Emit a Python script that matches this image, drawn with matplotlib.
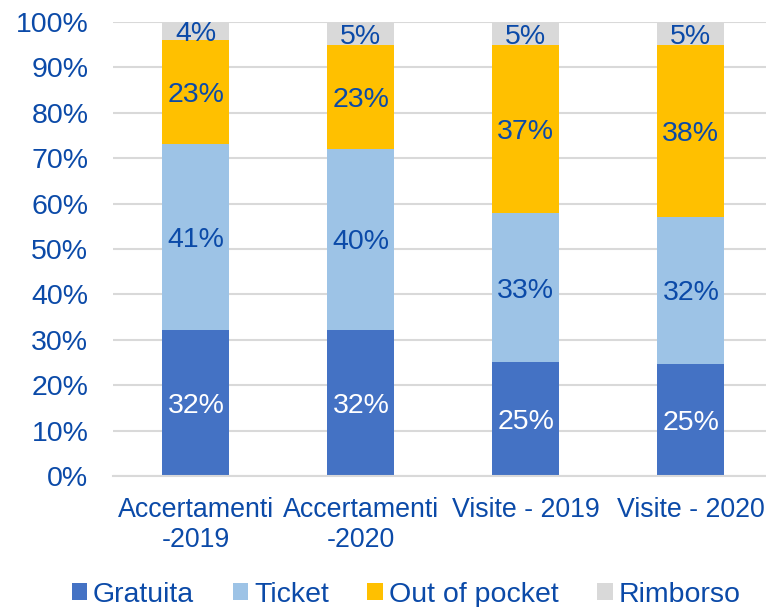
import matplotlib.pyplot as plt
from matplotlib.patches import Patch

categories = ["Accertamenti\n-2019", "Accertamenti\n-2020", "Visite - 2019", "Visite - 2020"]
series_names = ["Gratuita", "Ticket", "Out of pocket", "Rimborso"]
gratuita = [32.2, 32.2, 25.1, 24.7]
ticket = [40.9, 39.8, 32.8, 32.4]
out_of_pocket = [22.9, 22.9, 37.0, 37.8]
rimborso = [4.0, 5.1, 5.1, 5.1]

colors = ["#4472C4", "#9DC3E6", "#FFC000", "#D9D9D9"]
label_colors = ["white", "#0B4AA8", "#0B4AA8", "#0B4AA8"]
TEXT_BLUE = "#0B4AA8"

plt.rcParams["font.family"] = ["Liberation Sans", "DejaVu Sans"]
FS = 20.5

fig = plt.figure(figsize=(7.66, 6.07), dpi=100)
ax = fig.add_axes([0.148, 0.2158, 0.8616, 0.748])

x = list(range(len(categories)))
bottom = [0.0] * len(categories)
for values, name, color, lcolor in zip(
    [gratuita, ticket, out_of_pocket, rimborso], series_names, colors, label_colors
):
    ax.bar(x, values, width=0.406, bottom=bottom, color=color, label=name, zorder=2)
    for xi, b, v in zip(x, bottom, values):
        ax.text(xi, b + v / 2, f"{round(v)}%", ha="center", va="center_baseline",
                color=lcolor, fontsize=FS, zorder=3)
    bottom = [b + v for b, v in zip(bottom, values)]

ax.set_xlim(-0.5, 3.5)
ax.set_ylim(0, 100)
ax.set_yticks(range(0, 101, 10))
ax.set_yticklabels([f"{t}%" for t in range(0, 101, 10)])
ax.set_xticks(x)
ax.set_xticklabels(categories, linespacing=1.2)
ax.tick_params(axis="y", length=0, pad=18, labelsize=FS, labelcolor=TEXT_BLUE)
ax.tick_params(axis="x", length=0, pad=15, labelsize=19.3, labelcolor=TEXT_BLUE)
ax.grid(axis="y", color="#D9D9D9", linewidth=1.5, zorder=0)
for side in ["left", "right", "top"]:
    ax.spines[side].set_visible(False)
ax.spines["bottom"].set_color("#D9D9D9")
ax.spines["bottom"].set_linewidth(1.5)

handles = [Patch(facecolor=c, label=n) for c, n in zip(colors, series_names)]
leg = fig.legend(handles=handles, loc="center", bbox_to_anchor=(0.53, 0.02), ncol=4,
                 frameon=False, fontsize=FS, handlelength=0.55, handleheight=0.55,
                 handletextpad=0.2, columnspacing=1.35, borderaxespad=0)
for t in leg.get_texts():
    t.set_color(TEXT_BLUE)

fig.savefig("out.png", dpi=100)
